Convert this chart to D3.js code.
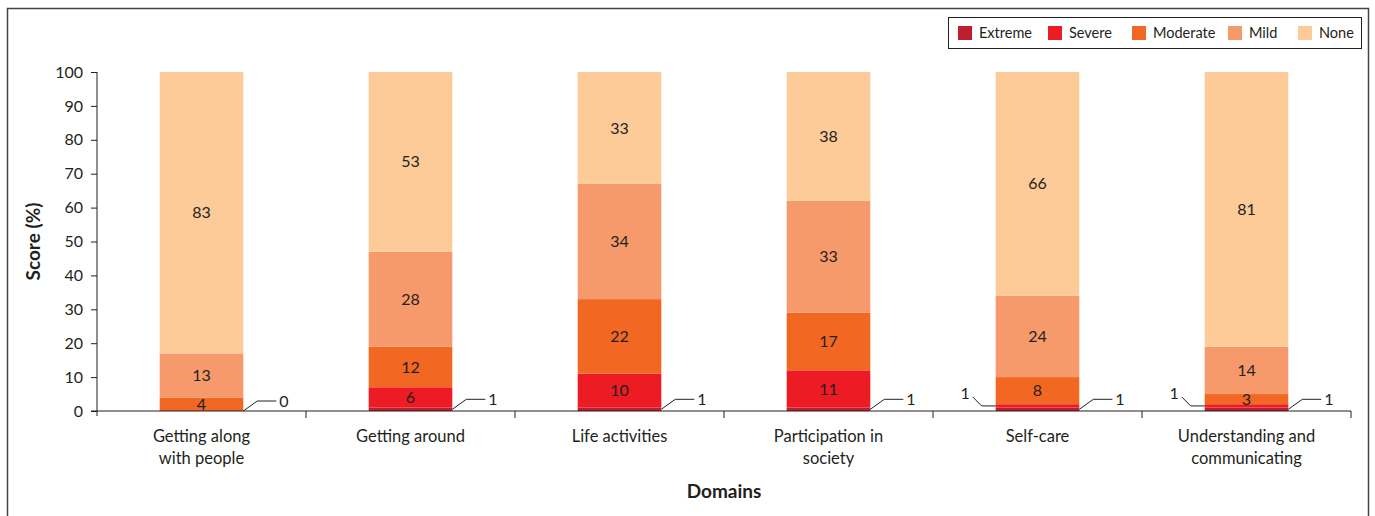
<!DOCTYPE html>
<html>
<head>
<meta charset="utf-8">
<script src="https://cdn.jsdelivr.net/npm/d3@7"></script>
<style>
  body { margin: 0; background: #fff; }
  svg text { font-family: Lato, 'Open Sans', sans-serif; fill: #231f20; }
</style>
</head>
<body>
<div id="chart"></div>
<script>
const categories = [
  ['Getting along', 'with people'],
  ['Getting around'],
  ['Life activities'],
  ['Participation in', 'society'],
  ['Self-care'],
  ['Understanding and', 'communicating'],
]
const levels = ['Extreme', 'Severe', 'Moderate', 'Mild', 'None']
const extreme = [0, 1, 1, 1, 1, 1]
const severe = [0, 6, 10, 11, 1, 1]
const moderate = [4, 12, 22, 17, 8, 3]
const mild = [13, 28, 34, 33, 24, 14]
const none = [83, 53, 33, 38, 66, 81]
const yTicks = [0, 10, 20, 30, 40, 50, 60, 70, 80, 90, 100]

const COLORS = {
  Extreme: '#be1e2d',
  Severe: '#ed1c24',
  Moderate: '#f26722',
  Mild: '#f79a6b',
  None: '#fdcb98',
}

const series = { Extreme: extreme, Severe: severe, Moderate: moderate, Mild: mild, None: none }
const data = categories.map((c, i) => {
  const row = { key: c.join(' ') }
  levels.forEach(l => { row[l] = series[l][i] })
  return row
})

const W = 1375, H = 516
const margin = { top: 72, right: 24, bottom: 105, left: 97 }
const width = W - margin.left - margin.right
const height = H - margin.top - margin.bottom

const root = d3.select('#chart').append('svg').attr('width', W).attr('height', H)

// outer frame
root.append('rect').attr('x', 7.5).attr('y', 8.5).attr('width', 1361).attr('height', 530)
  .attr('fill', 'none').attr('stroke', '#444').attr('stroke-width', 1.5)

const svg = root.append('g').attr('transform', `translate(${margin.left},${margin.top})`)

const x = d3.scaleBand().domain(data.map(d => d.key)).range([0, width]).paddingInner(0.6).paddingOuter(0.3)
const xb = d3.scaleBand().domain(data.map(d => d.key)).range([0, width])
const y = d3.scaleLinear().domain([0, 100]).range([height, 0])

const stacked = d3.stack().keys(levels)(data)

// bars
stacked.forEach(s => {
  svg.append('g').selectAll('rect').data(s).join('rect')
    .attr('x', d => x(d.data.key))
    .attr('y', d => y(d[1]))
    .attr('width', x.bandwidth())
    .attr('height', d => y(d[0]) - y(d[1]))
    .attr('fill', COLORS[s.key])
})

// in-bar labels
stacked.forEach(s => {
  s.forEach(d => {
    const v = d.data[s.key]
    if (s.key === 'Extreme' || v <= 1) return
    svg.append('text')
      .attr('x', x(d.data.key) + x.bandwidth() / 2)
      .attr('y', y((d[0] + d[1]) / 2))
      .attr('dy', '0.35em')
      .attr('text-anchor', 'middle')
      .attr('font-size', 16)
      .text(v)
  })
})

// leader labels: extreme on the right
stacked[0].forEach(d => {
  const xr = x(d.data.key) + x.bandwidth()
  const ym = y((d[0] + d[1]) / 2)
  svg.append('path')
    .attr('d', `M${xr},${ym}L${xr + 14},${ym - 10}H${xr + 33}`)
    .attr('fill', 'none').attr('stroke', '#231f20').attr('stroke-width', 1)
  svg.append('text').attr('x', xr + 36).attr('y', ym - 10).attr('dy', '0.35em')
    .attr('font-size', 16).text(d.data.Extreme)
})
// small severe values on the left
stacked[1].forEach(d => {
  const v = d.data.Severe
  if (v === 0 || v > 1) return
  const xl = x(d.data.key)
  const ym = y((d[0] + d[1]) / 2)
  svg.append('path')
    .attr('d', `M${xl},${ym}H${xl - 14}L${xl - 23},${ym - 9}`)
    .attr('fill', 'none').attr('stroke', '#231f20').attr('stroke-width', 1)
  svg.append('text').attr('x', xl - 26).attr('y', ym - 13).attr('dy', '0.35em')
    .attr('text-anchor', 'end').attr('font-size', 16).text(v)
})

// y axis
const yAxis = svg.append('g')
  .call(d3.axisLeft(y).tickValues(yTicks).tickSize(6).tickPadding(8))
yAxis.select('.domain').attr('d', `M0,0V${height + 5}`).attr('stroke', '#231f20')
yAxis.selectAll('.tick line').attr('stroke', '#231f20')
yAxis.selectAll('text').attr('font-size', 16).attr('fill', '#231f20').attr('font-family', 'Lato, sans-serif')

// x axis: line with ticks at band boundaries
const xAxis = svg.append('g').attr('transform', `translate(0,${height})`)
xAxis.append('line').attr('x1', -6).attr('x2', width).attr('stroke', '#231f20')
xAxis.selectAll('line.tk').data(data).join('line').attr('class', 'tk')
  .attr('x1', d => xb(d.key) + xb.bandwidth()).attr('x2', d => xb(d.key) + xb.bandwidth())
  .attr('y1', 0).attr('y2', 7).attr('stroke', '#231f20')

categories.forEach((c, i) => {
  const t = xAxis.append('text')
    .attr('x', xb(data[i].key) + xb.bandwidth() / 2)
    .attr('y', 31)
    .attr('text-anchor', 'middle')
    .attr('font-size', 16.5)
  c.forEach((line, j) => t.append('tspan')
    .attr('x', xb(data[i].key) + xb.bandwidth() / 2)
    .attr('dy', j === 0 ? 0 : 22).text(line))
})

// axis titles
root.append('text').attr('transform', `translate(40,${margin.top + height / 2}) rotate(-90)`)
  .attr('text-anchor', 'middle').attr('font-size', 19).attr('font-weight', 'bold').text('Score (%)')
root.append('text').attr('x', margin.left + width / 2).attr('y', 498)
  .attr('text-anchor', 'middle').attr('font-size', 19).attr('font-weight', 'bold').text('Domains')

// legend
const legend = root.append('g').attr('transform', 'translate(948,17)')
legend.append('rect').attr('x', 0.5).attr('y', 0.5).attr('width', 413).attr('height', 31)
  .attr('fill', '#fff').attr('stroke', '#231f20')
const legendX = [10, 100, 184, 280, 350]
levels.forEach((l, i) => {
  const g = legend.append('g').attr('transform', `translate(${legendX[i]},9)`)
  g.append('rect').attr('width', 14).attr('height', 14).attr('fill', COLORS[l])
  g.append('text').attr('x', 21).attr('y', 7).attr('dy', '0.35em').attr('font-size', 14.5).text(l)
})
</script>
</body>
</html>
